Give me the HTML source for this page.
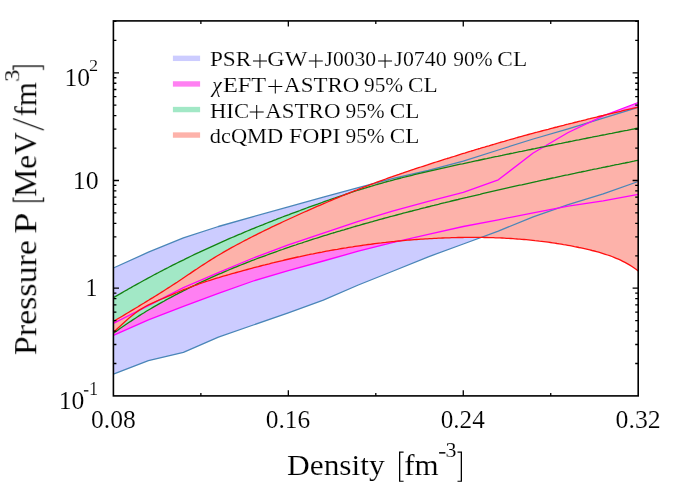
<!DOCTYPE html>
<html><head><meta charset="utf-8"><title>EOS constraints</title>
<style>html,body{margin:0;padding:0;background:#fff;}svg{display:block;}text{font-family:"Liberation Serif",serif;}</style></head>
<body>
<svg width="698" height="484" viewBox="0 0 698 484">
<rect width="698" height="484" fill="#ffffff"/>
<defs><clipPath id="cp"><rect x="113.4" y="20.9" width="524.8000000000001" height="375.0"/></clipPath></defs>
<g clip-path="url(#cp)">
<polygon points="113.4,268.0 148.4,252.2 183.4,237.9 218.4,226.5 253.3,216.6 288.3,206.9 323.3,197.2 358.3,187.6 393.3,178.4 428.3,170.4 463.3,161.1 498.3,150.0 533.2,139.0 568.2,128.9 603.2,118.1 638.2,107.4 638.2,181.5 603.2,193.9 568.2,204.6 533.2,216.8 498.3,231.1 463.3,244.0 428.3,256.8 393.3,271.0 358.3,285.0 323.3,300.2 288.3,312.9 253.3,325.0 218.4,337.1 183.4,352.4 148.4,360.7 113.4,374.2" fill="#ccccff"/>
<polygon points="113.4,323.3 148.4,305.6 183.4,287.7 218.4,272.6 253.3,258.0 288.3,244.9 323.3,233.1 358.3,221.3 393.3,210.8 428.3,201.3 463.3,192.3 498.3,179.8 533.2,153.0 568.2,132.5 603.2,115.9 638.2,102.5 638.2,194.4 603.2,200.8 568.2,206.2 533.2,212.8 498.3,219.8 463.3,226.5 428.3,234.3 393.3,242.3 358.3,251.2 323.3,261.0 288.3,270.7 253.3,281.0 218.4,293.3 183.4,306.4 148.4,319.8 113.4,335.3" fill="#ff80f2"/>
<polygon points="113.4,297.7 115.6,296.4 117.8,295.1 120.0,293.9 122.2,292.6 124.4,291.3 126.6,290.1 128.8,288.8 131.0,287.6 133.2,286.3 135.4,285.1 137.6,283.9 139.7,282.7 141.9,281.5 144.1,280.3 146.3,279.1 148.5,277.9 150.7,276.7 152.9,275.5 155.1,274.3 157.3,273.2 159.5,272.0 161.7,270.9 163.9,269.7 166.1,268.6 168.3,267.5 170.5,266.3 172.7,265.2 174.9,264.1 177.1,263.0 179.3,261.9 181.5,260.8 183.7,259.8 185.9,258.7 188.1,257.6 190.3,256.5 192.4,255.5 194.6,254.4 196.8,253.4 199.0,252.4 201.2,251.3 203.4,250.3 205.6,249.3 207.8,248.3 210.0,247.3 212.2,246.3 214.4,245.3 216.6,244.3 218.8,243.3 221.0,242.3 223.2,241.3 225.4,240.4 227.6,239.4 229.8,238.4 232.0,237.5 234.2,236.6 236.4,235.6 238.6,234.7 240.8,233.8 243.0,232.8 245.1,231.9 247.3,231.0 249.5,230.1 251.7,229.2 253.9,228.3 256.1,227.4 258.3,226.5 260.5,225.6 262.7,224.8 264.9,223.9 267.1,223.0 269.3,222.1 271.5,221.3 273.7,220.4 275.9,219.6 278.1,218.7 280.3,217.9 282.5,217.0 284.7,216.2 286.9,215.4 289.1,214.6 291.3,213.7 293.5,212.9 295.7,212.1 297.8,211.3 300.0,210.5 302.2,209.6 304.4,208.8 306.6,208.0 308.8,207.2 311.0,206.4 313.2,205.6 315.4,204.8 317.6,204.1 319.8,203.3 322.0,202.5 324.2,201.7 326.4,200.9 328.6,200.2 330.8,199.4 333.0,198.6 335.2,197.9 337.4,197.1 339.6,196.3 341.8,195.6 344.0,194.9 346.2,194.1 348.4,193.4 350.5,192.7 352.7,192.0 354.9,191.2 357.1,190.5 359.3,189.8 361.5,189.1 363.7,188.5 365.9,187.8 368.1,187.1 370.3,186.5 372.5,185.8 374.7,185.2 376.9,184.5 379.1,183.9 381.3,183.3 383.5,182.7 385.7,182.0 387.9,181.4 390.1,180.9 392.3,180.3 394.5,179.7 396.7,179.1 398.9,178.5 401.1,178.0 403.2,177.4 405.4,176.9 407.6,176.3 409.8,175.8 412.0,175.3 414.2,174.7 416.4,174.2 418.6,173.7 420.8,173.2 423.0,172.6 425.2,172.1 427.4,171.6 429.6,171.1 431.8,170.6 434.0,170.1 436.2,169.6 438.4,169.1 440.6,168.6 442.8,168.1 445.0,167.6 447.2,167.1 449.4,166.7 451.6,166.2 453.8,165.7 455.9,165.2 458.1,164.7 460.3,164.2 462.5,163.8 464.7,163.3 466.9,162.8 469.1,162.3 471.3,161.9 473.5,161.4 475.7,160.9 477.9,160.5 480.1,160.0 482.3,159.5 484.5,159.0 486.7,158.6 488.9,158.1 491.1,157.7 493.3,157.2 495.5,156.7 497.7,156.3 499.9,155.8 502.1,155.4 504.3,154.9 506.5,154.4 508.6,154.0 510.8,153.5 513.0,153.1 515.2,152.6 517.4,152.2 519.6,151.7 521.8,151.3 524.0,150.8 526.2,150.4 528.4,149.9 530.6,149.5 532.8,149.0 535.0,148.6 537.2,148.1 539.4,147.7 541.6,147.2 543.8,146.8 546.0,146.4 548.2,145.9 550.4,145.5 552.6,145.0 554.8,144.6 557.0,144.1 559.2,143.7 561.3,143.3 563.5,142.8 565.7,142.4 567.9,142.0 570.1,141.5 572.3,141.1 574.5,140.6 576.7,140.2 578.9,139.8 581.1,139.3 583.3,138.9 585.5,138.5 587.7,138.0 589.9,137.6 592.1,137.2 594.3,136.7 596.5,136.3 598.7,135.9 600.9,135.4 603.1,135.0 605.3,134.6 607.5,134.1 609.7,133.7 611.9,133.3 614.0,132.8 616.2,132.4 618.4,132.0 620.6,131.5 622.8,131.1 625.0,130.7 627.2,130.3 629.4,129.8 631.6,129.4 633.8,129.0 636.0,128.5 638.2,128.1 638.2,160.3 636.0,160.7 633.8,161.2 631.6,161.6 629.4,162.1 627.2,162.5 625.0,163.0 622.8,163.4 620.6,163.8 618.4,164.3 616.2,164.7 614.0,165.2 611.9,165.6 609.7,166.1 607.5,166.5 605.3,167.0 603.1,167.4 600.9,167.9 598.7,168.3 596.5,168.8 594.3,169.2 592.1,169.7 589.9,170.1 587.7,170.6 585.5,171.1 583.3,171.5 581.1,172.0 578.9,172.4 576.7,172.9 574.5,173.4 572.3,173.8 570.1,174.3 567.9,174.8 565.7,175.2 563.5,175.7 561.3,176.2 559.2,176.6 557.0,177.1 554.8,177.6 552.6,178.0 550.4,178.5 548.2,179.0 546.0,179.5 543.8,179.9 541.6,180.4 539.4,180.9 537.2,181.4 535.0,181.8 532.8,182.3 530.6,182.8 528.4,183.3 526.2,183.8 524.0,184.3 521.8,184.8 519.6,185.2 517.4,185.7 515.2,186.2 513.0,186.7 510.8,187.2 508.6,187.7 506.5,188.2 504.3,188.7 502.1,189.2 499.9,189.7 497.7,190.2 495.5,190.7 493.3,191.2 491.1,191.7 488.9,192.2 486.7,192.7 484.5,193.2 482.3,193.7 480.1,194.3 477.9,194.8 475.7,195.3 473.5,195.8 471.3,196.3 469.1,196.8 466.9,197.4 464.7,197.9 462.5,198.4 460.3,198.9 458.1,199.5 455.9,200.0 453.8,200.5 451.6,201.0 449.4,201.6 447.2,202.1 445.0,202.7 442.8,203.2 440.6,203.7 438.4,204.3 436.2,204.8 434.0,205.4 431.8,205.9 429.6,206.5 427.4,207.0 425.2,207.6 423.0,208.1 420.8,208.7 418.6,209.3 416.4,209.8 414.2,210.4 412.0,211.0 409.8,211.5 407.6,212.1 405.4,212.7 403.2,213.2 401.1,213.8 398.9,214.4 396.7,215.0 394.5,215.6 392.3,216.2 390.1,216.7 387.9,217.3 385.7,217.9 383.5,218.5 381.3,219.1 379.1,219.7 376.9,220.3 374.7,220.9 372.5,221.6 370.3,222.2 368.1,222.8 365.9,223.4 363.7,224.0 361.5,224.6 359.3,225.3 357.1,225.9 354.9,226.5 352.7,227.2 350.5,227.8 348.4,228.5 346.2,229.1 344.0,229.8 341.8,230.4 339.6,231.1 337.4,231.7 335.2,232.4 333.0,233.0 330.8,233.7 328.6,234.4 326.4,235.1 324.2,235.7 322.0,236.4 319.8,237.1 317.6,237.8 315.4,238.5 313.2,239.2 311.0,239.9 308.8,240.6 306.6,241.3 304.4,242.0 302.2,242.8 300.0,243.5 297.8,244.2 295.7,245.0 293.5,245.7 291.3,246.4 289.1,247.2 286.9,247.9 284.7,248.7 282.5,249.5 280.3,250.2 278.1,251.0 275.9,251.8 273.7,252.6 271.5,253.4 269.3,254.2 267.1,255.0 264.9,255.8 262.7,256.6 260.5,257.4 258.3,258.2 256.1,259.0 253.9,259.9 251.7,260.7 249.5,261.6 247.3,262.4 245.1,263.3 243.0,264.2 240.8,265.0 238.6,265.9 236.4,266.8 234.2,267.7 232.0,268.6 229.8,269.5 227.6,270.5 225.4,271.4 223.2,272.3 221.0,273.3 218.8,274.2 216.6,275.2 214.4,276.2 212.2,277.1 210.0,278.1 207.8,279.1 205.6,280.1 203.4,281.1 201.2,282.2 199.0,283.2 196.8,284.2 194.6,285.3 192.4,286.3 190.3,287.4 188.1,288.5 185.9,289.6 183.7,290.7 181.5,291.8 179.3,292.9 177.1,294.1 174.9,295.2 172.7,296.4 170.5,297.6 168.3,298.7 166.1,299.9 163.9,301.2 161.7,302.4 159.5,303.6 157.3,304.9 155.1,306.1 152.9,307.4 150.7,308.7 148.5,310.0 146.3,311.3 144.1,312.7 141.9,314.0 139.7,315.4 137.6,316.8 135.4,318.2 133.2,319.6 131.0,321.1 128.8,322.5 126.6,324.0 124.4,325.5 122.2,327.0 120.0,328.5 117.8,330.1 115.6,331.7 113.4,333.3" fill="#a2e8c6"/>
<polygon points="113.4,321.4 115.6,320.1 117.8,318.8 120.0,317.5 122.2,316.2 124.4,314.9 126.6,313.5 128.8,312.2 131.0,310.9 133.2,309.6 135.4,308.3 137.6,307.0 139.7,305.6 141.9,304.3 144.1,303.0 146.3,301.6 148.5,300.3 150.7,298.9 152.9,297.6 155.1,296.2 157.3,294.9 159.5,293.5 161.7,292.1 163.9,290.7 166.1,289.3 168.3,287.9 170.5,286.5 172.7,285.0 174.9,283.6 177.1,282.2 179.3,280.7 181.5,279.3 183.7,277.8 185.9,276.3 188.1,274.8 190.3,273.4 192.4,271.9 194.6,270.4 196.8,269.0 199.0,267.5 201.2,266.0 203.4,264.6 205.6,263.2 207.8,261.8 210.0,260.4 212.2,259.0 214.4,257.6 216.6,256.3 218.8,255.0 221.0,253.7 223.2,252.4 225.4,251.1 227.6,249.9 229.8,248.6 232.0,247.4 234.2,246.2 236.4,245.0 238.6,243.9 240.8,242.7 243.0,241.5 245.1,240.4 247.3,239.3 249.5,238.1 251.7,237.0 253.9,235.9 256.1,234.8 258.3,233.7 260.5,232.6 262.7,231.5 264.9,230.4 267.1,229.4 269.3,228.3 271.5,227.2 273.7,226.2 275.9,225.1 278.1,224.1 280.3,223.1 282.5,222.0 284.7,221.0 286.9,220.0 289.1,219.0 291.3,218.0 293.5,217.0 295.7,216.0 297.8,215.0 300.0,214.0 302.2,213.0 304.4,212.0 306.6,211.1 308.8,210.1 311.0,209.1 313.2,208.2 315.4,207.2 317.6,206.2 319.8,205.3 322.0,204.3 324.2,203.4 326.4,202.5 328.6,201.5 330.8,200.6 333.0,199.7 335.2,198.7 337.4,197.8 339.6,196.9 341.8,196.0 344.0,195.1 346.2,194.2 348.4,193.3 350.5,192.4 352.7,191.5 354.9,190.6 357.1,189.8 359.3,188.9 361.5,188.1 363.7,187.2 365.9,186.4 368.1,185.5 370.3,184.7 372.5,183.8 374.7,183.0 376.9,182.2 379.1,181.4 381.3,180.6 383.5,179.8 385.7,179.0 387.9,178.2 390.1,177.4 392.3,176.7 394.5,175.9 396.7,175.1 398.9,174.4 401.1,173.6 403.2,172.9 405.4,172.1 407.6,171.4 409.8,170.6 412.0,169.9 414.2,169.2 416.4,168.4 418.6,167.7 420.8,167.0 423.0,166.3 425.2,165.6 427.4,164.9 429.6,164.1 431.8,163.4 434.0,162.7 436.2,162.0 438.4,161.3 440.6,160.6 442.8,159.9 445.0,159.2 447.2,158.5 449.4,157.9 451.6,157.2 453.8,156.5 455.9,155.8 458.1,155.1 460.3,154.4 462.5,153.7 464.7,153.1 466.9,152.4 469.1,151.7 471.3,151.0 473.5,150.4 475.7,149.7 477.9,149.0 480.1,148.4 482.3,147.7 484.5,147.1 486.7,146.4 488.9,145.8 491.1,145.1 493.3,144.5 495.5,143.8 497.7,143.2 499.9,142.5 502.1,141.9 504.3,141.3 506.5,140.6 508.6,140.0 510.8,139.4 513.0,138.8 515.2,138.2 517.4,137.5 519.6,136.9 521.8,136.3 524.0,135.7 526.2,135.1 528.4,134.5 530.6,133.9 532.8,133.3 535.0,132.7 537.2,132.2 539.4,131.6 541.6,131.0 543.8,130.4 546.0,129.8 548.2,129.3 550.4,128.7 552.6,128.1 554.8,127.5 557.0,127.0 559.2,126.4 561.3,125.8 563.5,125.3 565.7,124.7 567.9,124.2 570.1,123.6 572.3,123.1 574.5,122.5 576.7,122.0 578.9,121.4 581.1,120.9 583.3,120.3 585.5,119.8 587.7,119.2 589.9,118.7 592.1,118.1 594.3,117.6 596.5,117.1 598.7,116.5 600.9,116.0 603.1,115.5 605.3,114.9 607.5,114.4 609.7,113.9 611.9,113.4 614.0,112.8 616.2,112.3 618.4,111.8 620.6,111.3 622.8,110.7 625.0,110.2 627.2,109.7 629.4,109.2 631.6,108.7 633.8,108.1 636.0,107.6 638.2,107.1 638.2,270.9 636.0,269.2 633.8,267.7 631.6,266.2 629.4,264.9 627.2,263.6 625.0,262.4 622.8,261.3 620.6,260.2 618.4,259.2 616.2,258.3 614.0,257.4 611.9,256.5 609.7,255.7 607.5,255.0 605.3,254.3 603.1,253.6 600.9,252.9 598.7,252.2 596.5,251.6 594.3,251.0 592.1,250.5 589.9,249.9 587.7,249.4 585.5,248.9 583.3,248.4 581.1,247.9 578.9,247.5 576.7,247.0 574.5,246.6 572.3,246.1 570.1,245.7 567.9,245.3 565.7,244.9 563.5,244.6 561.3,244.2 559.2,243.8 557.0,243.5 554.8,243.1 552.6,242.8 550.4,242.5 548.2,242.2 546.0,241.9 543.8,241.6 541.6,241.3 539.4,241.1 537.2,240.8 535.0,240.6 532.8,240.3 530.6,240.1 528.4,239.9 526.2,239.7 524.0,239.5 521.8,239.3 519.6,239.1 517.4,239.0 515.2,238.8 513.0,238.6 510.8,238.5 508.6,238.4 506.5,238.3 504.3,238.1 502.1,238.0 499.9,237.9 497.7,237.8 495.5,237.8 493.3,237.7 491.1,237.6 488.9,237.6 486.7,237.5 484.5,237.5 482.3,237.4 480.1,237.4 477.9,237.4 475.7,237.4 473.5,237.4 471.3,237.4 469.1,237.4 466.9,237.4 464.7,237.4 462.5,237.5 460.3,237.5 458.1,237.5 455.9,237.6 453.8,237.7 451.6,237.7 449.4,237.8 447.2,237.9 445.0,237.9 442.8,238.0 440.6,238.1 438.4,238.2 436.2,238.3 434.0,238.4 431.8,238.6 429.6,238.7 427.4,238.8 425.2,238.9 423.0,239.1 420.8,239.2 418.6,239.4 416.4,239.5 414.2,239.7 412.0,239.9 409.8,240.0 407.6,240.2 405.4,240.4 403.2,240.6 401.1,240.8 398.9,241.0 396.7,241.2 394.5,241.5 392.3,241.7 390.1,241.9 387.9,242.1 385.7,242.4 383.5,242.6 381.3,242.9 379.1,243.1 376.9,243.4 374.7,243.7 372.5,244.0 370.3,244.3 368.1,244.5 365.9,244.8 363.7,245.1 361.5,245.5 359.3,245.8 357.1,246.1 354.9,246.4 352.7,246.8 350.5,247.1 348.4,247.4 346.2,247.8 344.0,248.1 341.8,248.5 339.6,248.9 337.4,249.3 335.2,249.6 333.0,250.0 330.8,250.4 328.6,250.8 326.4,251.2 324.2,251.6 322.0,252.1 319.8,252.5 317.6,252.9 315.4,253.3 313.2,253.8 311.0,254.2 308.8,254.7 306.6,255.1 304.4,255.6 302.2,256.1 300.0,256.6 297.8,257.0 295.7,257.5 293.5,258.0 291.3,258.5 289.1,259.0 286.9,259.5 284.7,260.0 282.5,260.6 280.3,261.1 278.1,261.6 275.9,262.1 273.7,262.7 271.5,263.2 269.3,263.8 267.1,264.3 264.9,264.9 262.7,265.4 260.5,266.0 258.3,266.6 256.1,267.1 253.9,267.7 251.7,268.3 249.5,268.9 247.3,269.5 245.1,270.1 243.0,270.7 240.8,271.3 238.6,271.9 236.4,272.5 234.2,273.1 232.0,273.7 229.8,274.3 227.6,275.0 225.4,275.6 223.2,276.2 221.0,276.9 218.8,277.6 216.6,278.2 214.4,278.9 212.2,279.6 210.0,280.3 207.8,281.0 205.6,281.7 203.4,282.5 201.2,283.2 199.0,284.0 196.8,284.8 194.6,285.5 192.4,286.3 190.3,287.2 188.1,288.0 185.9,288.9 183.7,289.7 181.5,290.6 179.3,291.5 177.1,292.5 174.9,293.4 172.7,294.4 170.5,295.3 168.3,296.2 166.1,297.2 163.9,298.1 161.7,299.0 159.5,299.9 157.3,300.8 155.1,301.8 152.9,302.8 150.7,303.8 148.5,304.9 146.3,306.0 144.1,307.3 141.9,308.6 139.7,309.9 137.6,311.4 135.4,313.0 133.2,314.7 131.0,316.4 128.8,318.3 126.6,320.2 124.4,322.2 122.2,324.2 120.0,326.2 117.8,328.2 115.6,330.2 113.4,332.1" fill="#fdb2aa"/>
<polyline points="113.4,268.0 148.4,252.2 183.4,237.9 218.4,226.5 253.3,216.6 288.3,206.9 323.3,197.2 358.3,187.6 393.3,178.4 428.3,170.4 463.3,161.1 498.3,150.0 533.2,139.0 568.2,128.9 603.2,118.1 638.2,107.4" fill="none" stroke="#4a86b8" stroke-width="1.3" stroke-linejoin="round"/>
<polyline points="113.4,374.2 148.4,360.7 183.4,352.4 218.4,337.1 253.3,325.0 288.3,312.9 323.3,300.2 358.3,285.0 393.3,271.0 428.3,256.8 463.3,244.0 498.3,231.1 533.2,216.8 568.2,204.6 603.2,193.9 638.2,181.5" fill="none" stroke="#4a86b8" stroke-width="1.3" stroke-linejoin="round"/>
<polyline points="113.4,323.3 148.4,305.6 183.4,287.7 218.4,272.6 253.3,258.0 288.3,244.9 323.3,233.1 358.3,221.3 393.3,210.8 428.3,201.3 463.3,192.3 498.3,179.8 533.2,153.0 568.2,132.5 603.2,115.9 638.2,102.5" fill="none" stroke="#ff00ff" stroke-width="1.3" stroke-linejoin="round"/>
<polyline points="113.4,335.3 148.4,319.8 183.4,306.4 218.4,293.3 253.3,281.0 288.3,270.7 323.3,261.0 358.3,251.2 393.3,242.3 428.3,234.3 463.3,226.5 498.3,219.8 533.2,212.8 568.2,206.2 603.2,200.8 638.2,194.4" fill="none" stroke="#ff00ff" stroke-width="1.3" stroke-linejoin="round"/>
<polyline points="113.4,297.7 115.6,296.4 117.8,295.1 120.0,293.9 122.2,292.6 124.4,291.3 126.6,290.1 128.8,288.8 131.0,287.6 133.2,286.3 135.4,285.1 137.6,283.9 139.7,282.7 141.9,281.5 144.1,280.3 146.3,279.1 148.5,277.9 150.7,276.7 152.9,275.5 155.1,274.3 157.3,273.2 159.5,272.0 161.7,270.9 163.9,269.7 166.1,268.6 168.3,267.5 170.5,266.3 172.7,265.2 174.9,264.1 177.1,263.0 179.3,261.9 181.5,260.8 183.7,259.8 185.9,258.7 188.1,257.6 190.3,256.5 192.4,255.5 194.6,254.4 196.8,253.4 199.0,252.4 201.2,251.3 203.4,250.3 205.6,249.3 207.8,248.3 210.0,247.3 212.2,246.3 214.4,245.3 216.6,244.3 218.8,243.3 221.0,242.3 223.2,241.3 225.4,240.4 227.6,239.4 229.8,238.4 232.0,237.5 234.2,236.6 236.4,235.6 238.6,234.7 240.8,233.8 243.0,232.8 245.1,231.9 247.3,231.0 249.5,230.1 251.7,229.2 253.9,228.3 256.1,227.4 258.3,226.5 260.5,225.6 262.7,224.8 264.9,223.9 267.1,223.0 269.3,222.1 271.5,221.3 273.7,220.4 275.9,219.6 278.1,218.7 280.3,217.9 282.5,217.0 284.7,216.2 286.9,215.4 289.1,214.6 291.3,213.7 293.5,212.9 295.7,212.1 297.8,211.3 300.0,210.5 302.2,209.6 304.4,208.8 306.6,208.0 308.8,207.2 311.0,206.4 313.2,205.6 315.4,204.8 317.6,204.1 319.8,203.3 322.0,202.5 324.2,201.7 326.4,200.9 328.6,200.2 330.8,199.4 333.0,198.6 335.2,197.9 337.4,197.1 339.6,196.3 341.8,195.6 344.0,194.9 346.2,194.1 348.4,193.4 350.5,192.7 352.7,192.0 354.9,191.2 357.1,190.5 359.3,189.8 361.5,189.1 363.7,188.5 365.9,187.8 368.1,187.1 370.3,186.5 372.5,185.8 374.7,185.2 376.9,184.5 379.1,183.9 381.3,183.3 383.5,182.7 385.7,182.0 387.9,181.4 390.1,180.9 392.3,180.3 394.5,179.7 396.7,179.1 398.9,178.5 401.1,178.0 403.2,177.4 405.4,176.9 407.6,176.3 409.8,175.8 412.0,175.3 414.2,174.7 416.4,174.2 418.6,173.7 420.8,173.2 423.0,172.6 425.2,172.1 427.4,171.6 429.6,171.1 431.8,170.6 434.0,170.1 436.2,169.6 438.4,169.1 440.6,168.6 442.8,168.1 445.0,167.6 447.2,167.1 449.4,166.7 451.6,166.2 453.8,165.7 455.9,165.2 458.1,164.7 460.3,164.2 462.5,163.8 464.7,163.3 466.9,162.8 469.1,162.3 471.3,161.9 473.5,161.4 475.7,160.9 477.9,160.5 480.1,160.0 482.3,159.5 484.5,159.0 486.7,158.6 488.9,158.1 491.1,157.7 493.3,157.2 495.5,156.7 497.7,156.3 499.9,155.8 502.1,155.4 504.3,154.9 506.5,154.4 508.6,154.0 510.8,153.5 513.0,153.1 515.2,152.6 517.4,152.2 519.6,151.7 521.8,151.3 524.0,150.8 526.2,150.4 528.4,149.9 530.6,149.5 532.8,149.0 535.0,148.6 537.2,148.1 539.4,147.7 541.6,147.2 543.8,146.8 546.0,146.4 548.2,145.9 550.4,145.5 552.6,145.0 554.8,144.6 557.0,144.1 559.2,143.7 561.3,143.3 563.5,142.8 565.7,142.4 567.9,142.0 570.1,141.5 572.3,141.1 574.5,140.6 576.7,140.2 578.9,139.8 581.1,139.3 583.3,138.9 585.5,138.5 587.7,138.0 589.9,137.6 592.1,137.2 594.3,136.7 596.5,136.3 598.7,135.9 600.9,135.4 603.1,135.0 605.3,134.6 607.5,134.1 609.7,133.7 611.9,133.3 614.0,132.8 616.2,132.4 618.4,132.0 620.6,131.5 622.8,131.1 625.0,130.7 627.2,130.3 629.4,129.8 631.6,129.4 633.8,129.0 636.0,128.5 638.2,128.1" fill="none" stroke="#128212" stroke-width="1.3" stroke-linejoin="round"/>
<polyline points="113.4,333.3 115.6,331.7 117.8,330.1 120.0,328.5 122.2,327.0 124.4,325.5 126.6,324.0 128.8,322.5 131.0,321.1 133.2,319.6 135.4,318.2 137.6,316.8 139.7,315.4 141.9,314.0 144.1,312.7 146.3,311.3 148.5,310.0 150.7,308.7 152.9,307.4 155.1,306.1 157.3,304.9 159.5,303.6 161.7,302.4 163.9,301.2 166.1,299.9 168.3,298.7 170.5,297.6 172.7,296.4 174.9,295.2 177.1,294.1 179.3,292.9 181.5,291.8 183.7,290.7 185.9,289.6 188.1,288.5 190.3,287.4 192.4,286.3 194.6,285.3 196.8,284.2 199.0,283.2 201.2,282.2 203.4,281.1 205.6,280.1 207.8,279.1 210.0,278.1 212.2,277.1 214.4,276.2 216.6,275.2 218.8,274.2 221.0,273.3 223.2,272.3 225.4,271.4 227.6,270.5 229.8,269.5 232.0,268.6 234.2,267.7 236.4,266.8 238.6,265.9 240.8,265.0 243.0,264.2 245.1,263.3 247.3,262.4 249.5,261.6 251.7,260.7 253.9,259.9 256.1,259.0 258.3,258.2 260.5,257.4 262.7,256.6 264.9,255.8 267.1,255.0 269.3,254.2 271.5,253.4 273.7,252.6 275.9,251.8 278.1,251.0 280.3,250.2 282.5,249.5 284.7,248.7 286.9,247.9 289.1,247.2 291.3,246.4 293.5,245.7 295.7,245.0 297.8,244.2 300.0,243.5 302.2,242.8 304.4,242.0 306.6,241.3 308.8,240.6 311.0,239.9 313.2,239.2 315.4,238.5 317.6,237.8 319.8,237.1 322.0,236.4 324.2,235.7 326.4,235.1 328.6,234.4 330.8,233.7 333.0,233.0 335.2,232.4 337.4,231.7 339.6,231.1 341.8,230.4 344.0,229.8 346.2,229.1 348.4,228.5 350.5,227.8 352.7,227.2 354.9,226.5 357.1,225.9 359.3,225.3 361.5,224.6 363.7,224.0 365.9,223.4 368.1,222.8 370.3,222.2 372.5,221.6 374.7,220.9 376.9,220.3 379.1,219.7 381.3,219.1 383.5,218.5 385.7,217.9 387.9,217.3 390.1,216.7 392.3,216.2 394.5,215.6 396.7,215.0 398.9,214.4 401.1,213.8 403.2,213.2 405.4,212.7 407.6,212.1 409.8,211.5 412.0,211.0 414.2,210.4 416.4,209.8 418.6,209.3 420.8,208.7 423.0,208.1 425.2,207.6 427.4,207.0 429.6,206.5 431.8,205.9 434.0,205.4 436.2,204.8 438.4,204.3 440.6,203.7 442.8,203.2 445.0,202.7 447.2,202.1 449.4,201.6 451.6,201.0 453.8,200.5 455.9,200.0 458.1,199.5 460.3,198.9 462.5,198.4 464.7,197.9 466.9,197.4 469.1,196.8 471.3,196.3 473.5,195.8 475.7,195.3 477.9,194.8 480.1,194.3 482.3,193.7 484.5,193.2 486.7,192.7 488.9,192.2 491.1,191.7 493.3,191.2 495.5,190.7 497.7,190.2 499.9,189.7 502.1,189.2 504.3,188.7 506.5,188.2 508.6,187.7 510.8,187.2 513.0,186.7 515.2,186.2 517.4,185.7 519.6,185.2 521.8,184.8 524.0,184.3 526.2,183.8 528.4,183.3 530.6,182.8 532.8,182.3 535.0,181.8 537.2,181.4 539.4,180.9 541.6,180.4 543.8,179.9 546.0,179.5 548.2,179.0 550.4,178.5 552.6,178.0 554.8,177.6 557.0,177.1 559.2,176.6 561.3,176.2 563.5,175.7 565.7,175.2 567.9,174.8 570.1,174.3 572.3,173.8 574.5,173.4 576.7,172.9 578.9,172.4 581.1,172.0 583.3,171.5 585.5,171.1 587.7,170.6 589.9,170.1 592.1,169.7 594.3,169.2 596.5,168.8 598.7,168.3 600.9,167.9 603.1,167.4 605.3,167.0 607.5,166.5 609.7,166.1 611.9,165.6 614.0,165.2 616.2,164.7 618.4,164.3 620.6,163.8 622.8,163.4 625.0,163.0 627.2,162.5 629.4,162.1 631.6,161.6 633.8,161.2 636.0,160.7 638.2,160.3" fill="none" stroke="#128212" stroke-width="1.3" stroke-linejoin="round"/>
<polyline points="113.4,321.4 115.6,320.1 117.8,318.8 120.0,317.5 122.2,316.2 124.4,314.9 126.6,313.5 128.8,312.2 131.0,310.9 133.2,309.6 135.4,308.3 137.6,307.0 139.7,305.6 141.9,304.3 144.1,303.0 146.3,301.6 148.5,300.3 150.7,298.9 152.9,297.6 155.1,296.2 157.3,294.9 159.5,293.5 161.7,292.1 163.9,290.7 166.1,289.3 168.3,287.9 170.5,286.5 172.7,285.0 174.9,283.6 177.1,282.2 179.3,280.7 181.5,279.3 183.7,277.8 185.9,276.3 188.1,274.8 190.3,273.4 192.4,271.9 194.6,270.4 196.8,269.0 199.0,267.5 201.2,266.0 203.4,264.6 205.6,263.2 207.8,261.8 210.0,260.4 212.2,259.0 214.4,257.6 216.6,256.3 218.8,255.0 221.0,253.7 223.2,252.4 225.4,251.1 227.6,249.9 229.8,248.6 232.0,247.4 234.2,246.2 236.4,245.0 238.6,243.9 240.8,242.7 243.0,241.5 245.1,240.4 247.3,239.3 249.5,238.1 251.7,237.0 253.9,235.9 256.1,234.8 258.3,233.7 260.5,232.6 262.7,231.5 264.9,230.4 267.1,229.4 269.3,228.3 271.5,227.2 273.7,226.2 275.9,225.1 278.1,224.1 280.3,223.1 282.5,222.0 284.7,221.0 286.9,220.0 289.1,219.0 291.3,218.0 293.5,217.0 295.7,216.0 297.8,215.0 300.0,214.0 302.2,213.0 304.4,212.0 306.6,211.1 308.8,210.1 311.0,209.1 313.2,208.2 315.4,207.2 317.6,206.2 319.8,205.3 322.0,204.3 324.2,203.4 326.4,202.5 328.6,201.5 330.8,200.6 333.0,199.7 335.2,198.7 337.4,197.8 339.6,196.9 341.8,196.0 344.0,195.1 346.2,194.2 348.4,193.3 350.5,192.4 352.7,191.5 354.9,190.6 357.1,189.8 359.3,188.9 361.5,188.1 363.7,187.2 365.9,186.4 368.1,185.5 370.3,184.7 372.5,183.8 374.7,183.0 376.9,182.2 379.1,181.4 381.3,180.6 383.5,179.8 385.7,179.0 387.9,178.2 390.1,177.4 392.3,176.7 394.5,175.9 396.7,175.1 398.9,174.4 401.1,173.6 403.2,172.9 405.4,172.1 407.6,171.4 409.8,170.6 412.0,169.9 414.2,169.2 416.4,168.4 418.6,167.7 420.8,167.0 423.0,166.3 425.2,165.6 427.4,164.9 429.6,164.1 431.8,163.4 434.0,162.7 436.2,162.0 438.4,161.3 440.6,160.6 442.8,159.9 445.0,159.2 447.2,158.5 449.4,157.9 451.6,157.2 453.8,156.5 455.9,155.8 458.1,155.1 460.3,154.4 462.5,153.7 464.7,153.1 466.9,152.4 469.1,151.7 471.3,151.0 473.5,150.4 475.7,149.7 477.9,149.0 480.1,148.4 482.3,147.7 484.5,147.1 486.7,146.4 488.9,145.8 491.1,145.1 493.3,144.5 495.5,143.8 497.7,143.2 499.9,142.5 502.1,141.9 504.3,141.3 506.5,140.6 508.6,140.0 510.8,139.4 513.0,138.8 515.2,138.2 517.4,137.5 519.6,136.9 521.8,136.3 524.0,135.7 526.2,135.1 528.4,134.5 530.6,133.9 532.8,133.3 535.0,132.7 537.2,132.2 539.4,131.6 541.6,131.0 543.8,130.4 546.0,129.8 548.2,129.3 550.4,128.7 552.6,128.1 554.8,127.5 557.0,127.0 559.2,126.4 561.3,125.8 563.5,125.3 565.7,124.7 567.9,124.2 570.1,123.6 572.3,123.1 574.5,122.5 576.7,122.0 578.9,121.4 581.1,120.9 583.3,120.3 585.5,119.8 587.7,119.2 589.9,118.7 592.1,118.1 594.3,117.6 596.5,117.1 598.7,116.5 600.9,116.0 603.1,115.5 605.3,114.9 607.5,114.4 609.7,113.9 611.9,113.4 614.0,112.8 616.2,112.3 618.4,111.8 620.6,111.3 622.8,110.7 625.0,110.2 627.2,109.7 629.4,109.2 631.6,108.7 633.8,108.1 636.0,107.6 638.2,107.1" fill="none" stroke="#ff1010" stroke-width="1.3" stroke-linejoin="round"/>
<polyline points="113.4,332.1 115.6,330.2 117.8,328.2 120.0,326.2 122.2,324.2 124.4,322.2 126.6,320.2 128.8,318.3 131.0,316.4 133.2,314.7 135.4,313.0 137.6,311.4 139.7,309.9 141.9,308.6 144.1,307.3 146.3,306.0 148.5,304.9 150.7,303.8 152.9,302.8 155.1,301.8 157.3,300.8 159.5,299.9 161.7,299.0 163.9,298.1 166.1,297.2 168.3,296.2 170.5,295.3 172.7,294.4 174.9,293.4 177.1,292.5 179.3,291.5 181.5,290.6 183.7,289.7 185.9,288.9 188.1,288.0 190.3,287.2 192.4,286.3 194.6,285.5 196.8,284.8 199.0,284.0 201.2,283.2 203.4,282.5 205.6,281.7 207.8,281.0 210.0,280.3 212.2,279.6 214.4,278.9 216.6,278.2 218.8,277.6 221.0,276.9 223.2,276.2 225.4,275.6 227.6,275.0 229.8,274.3 232.0,273.7 234.2,273.1 236.4,272.5 238.6,271.9 240.8,271.3 243.0,270.7 245.1,270.1 247.3,269.5 249.5,268.9 251.7,268.3 253.9,267.7 256.1,267.1 258.3,266.6 260.5,266.0 262.7,265.4 264.9,264.9 267.1,264.3 269.3,263.8 271.5,263.2 273.7,262.7 275.9,262.1 278.1,261.6 280.3,261.1 282.5,260.6 284.7,260.0 286.9,259.5 289.1,259.0 291.3,258.5 293.5,258.0 295.7,257.5 297.8,257.0 300.0,256.6 302.2,256.1 304.4,255.6 306.6,255.1 308.8,254.7 311.0,254.2 313.2,253.8 315.4,253.3 317.6,252.9 319.8,252.5 322.0,252.1 324.2,251.6 326.4,251.2 328.6,250.8 330.8,250.4 333.0,250.0 335.2,249.6 337.4,249.3 339.6,248.9 341.8,248.5 344.0,248.1 346.2,247.8 348.4,247.4 350.5,247.1 352.7,246.8 354.9,246.4 357.1,246.1 359.3,245.8 361.5,245.5 363.7,245.1 365.9,244.8 368.1,244.5 370.3,244.3 372.5,244.0 374.7,243.7 376.9,243.4 379.1,243.1 381.3,242.9 383.5,242.6 385.7,242.4 387.9,242.1 390.1,241.9 392.3,241.7 394.5,241.5 396.7,241.2 398.9,241.0 401.1,240.8 403.2,240.6 405.4,240.4 407.6,240.2 409.8,240.0 412.0,239.9 414.2,239.7 416.4,239.5 418.6,239.4 420.8,239.2 423.0,239.1 425.2,238.9 427.4,238.8 429.6,238.7 431.8,238.6 434.0,238.4 436.2,238.3 438.4,238.2 440.6,238.1 442.8,238.0 445.0,237.9 447.2,237.9 449.4,237.8 451.6,237.7 453.8,237.7 455.9,237.6 458.1,237.5 460.3,237.5 462.5,237.5 464.7,237.4 466.9,237.4 469.1,237.4 471.3,237.4 473.5,237.4 475.7,237.4 477.9,237.4 480.1,237.4 482.3,237.4 484.5,237.5 486.7,237.5 488.9,237.6 491.1,237.6 493.3,237.7 495.5,237.8 497.7,237.8 499.9,237.9 502.1,238.0 504.3,238.1 506.5,238.3 508.6,238.4 510.8,238.5 513.0,238.6 515.2,238.8 517.4,239.0 519.6,239.1 521.8,239.3 524.0,239.5 526.2,239.7 528.4,239.9 530.6,240.1 532.8,240.3 535.0,240.6 537.2,240.8 539.4,241.1 541.6,241.3 543.8,241.6 546.0,241.9 548.2,242.2 550.4,242.5 552.6,242.8 554.8,243.1 557.0,243.5 559.2,243.8 561.3,244.2 563.5,244.6 565.7,244.9 567.9,245.3 570.1,245.7 572.3,246.1 574.5,246.6 576.7,247.0 578.9,247.5 581.1,247.9 583.3,248.4 585.5,248.9 587.7,249.4 589.9,249.9 592.1,250.5 594.3,251.0 596.5,251.6 598.7,252.2 600.9,252.9 603.1,253.6 605.3,254.3 607.5,255.0 609.7,255.7 611.9,256.5 614.0,257.4 616.2,258.3 618.4,259.2 620.6,260.2 622.8,261.3 625.0,262.4 627.2,263.6 629.4,264.9 631.6,266.2 633.8,267.7 636.0,269.2 638.2,270.9" fill="none" stroke="#ff1010" stroke-width="1.3" stroke-linejoin="round"/>
</g>
<g stroke="#000000" stroke-width="1.3" fill="none">
<path d="M113.4 363.48h3.0M638.2 363.48h-3.0"/>
<path d="M113.4 344.51h3.0M638.2 344.51h-3.0"/>
<path d="M113.4 331.06h3.0M638.2 331.06h-3.0"/>
<path d="M113.4 320.62h3.0M638.2 320.62h-3.0"/>
<path d="M113.4 312.09h3.0M638.2 312.09h-3.0"/>
<path d="M113.4 304.88h3.0M638.2 304.88h-3.0"/>
<path d="M113.4 298.64h3.0M638.2 298.64h-3.0"/>
<path d="M113.4 293.13h3.0M638.2 293.13h-3.0"/>
<path d="M113.4 288.20h5.6M638.2 288.20h-5.6"/>
<path d="M113.4 255.78h3.0M638.2 255.78h-3.0"/>
<path d="M113.4 236.81h3.0M638.2 236.81h-3.0"/>
<path d="M113.4 223.36h3.0M638.2 223.36h-3.0"/>
<path d="M113.4 212.92h3.0M638.2 212.92h-3.0"/>
<path d="M113.4 204.39h3.0M638.2 204.39h-3.0"/>
<path d="M113.4 197.18h3.0M638.2 197.18h-3.0"/>
<path d="M113.4 190.94h3.0M638.2 190.94h-3.0"/>
<path d="M113.4 185.43h3.0M638.2 185.43h-3.0"/>
<path d="M113.4 180.50h5.6M638.2 180.50h-5.6"/>
<path d="M113.4 148.08h3.0M638.2 148.08h-3.0"/>
<path d="M113.4 129.11h3.0M638.2 129.11h-3.0"/>
<path d="M113.4 115.66h3.0M638.2 115.66h-3.0"/>
<path d="M113.4 105.22h3.0M638.2 105.22h-3.0"/>
<path d="M113.4 96.69h3.0M638.2 96.69h-3.0"/>
<path d="M113.4 89.48h3.0M638.2 89.48h-3.0"/>
<path d="M113.4 83.24h3.0M638.2 83.24h-3.0"/>
<path d="M113.4 77.73h3.0M638.2 77.73h-3.0"/>
<path d="M113.4 72.80h5.6M638.2 72.80h-5.6"/>
<path d="M113.4 40.38h3.0M638.2 40.38h-3.0"/>
<path d="M113.4 21.41h3.0M638.2 21.41h-3.0"/>
<path d="M200.87 395.9v-3.0M200.87 20.9v3.0"/>
<path d="M288.33 395.9v-5.6M288.33 20.9v5.6"/>
<path d="M375.80 395.9v-3.0M375.80 20.9v3.0"/>
<path d="M463.27 395.9v-5.6M463.27 20.9v5.6"/>
<path d="M550.73 395.9v-3.0M550.73 20.9v3.0"/>
</g>
<rect x="113.4" y="20.9" width="524.8" height="375.0" fill="none" stroke="#000000" stroke-width="1.6"/>
<g font-family="'Liberation Serif', serif" fill="#000000" stroke="none" opacity="0.999">
<text transform="matrix(0.2557 0 0 0.2485 90.98 427.60)" font-size="100" stroke="#fff" stroke-width="0.56" paint-order="fill stroke">0.08</text>
<text transform="matrix(0.2542 0 0 0.2485 265.78 427.60)" font-size="100" stroke="#fff" stroke-width="0.56" paint-order="fill stroke">0.16</text>
<text transform="matrix(0.2519 0 0 0.2485 440.69 427.60)" font-size="100" stroke="#fff" stroke-width="0.56" paint-order="fill stroke">0.24</text>
<text transform="matrix(0.2580 0 0 0.2485 615.57 427.60)" font-size="100" stroke="#fff" stroke-width="0.55" paint-order="fill stroke">0.32</text>
<text transform="matrix(0.2560 0 0 0.2500 64.42 85.50)" font-size="100" stroke="#fff" stroke-width="0.55" paint-order="fill stroke">10</text>
<text transform="matrix(0.1825 0 0 0.1712 88.98 71.10)" font-size="100" stroke="#fff" stroke-width="0.79" paint-order="fill stroke">2</text>
<text transform="matrix(0.2583 0 0 0.2500 72.80 188.70)" font-size="100" stroke="#fff" stroke-width="0.55" paint-order="fill stroke">10</text>
<text transform="matrix(0.2394 0 0 0.2500 85.56 296.20)" font-size="100" stroke="#fff" stroke-width="0.57" paint-order="fill stroke">1</text>
<text transform="matrix(0.2571 0 0 0.2500 58.71 408.90)" font-size="100" stroke="#fff" stroke-width="0.55" paint-order="fill stroke">10</text>
<rect x="83.9" y="390.2" width="4.5" height="1.3"/>
<text transform="matrix(0.1831 0 0 0.1788 88.94 394.80)" font-size="100" stroke="#fff" stroke-width="0.77" paint-order="fill stroke">1</text>
<rect x="172.9" y="55.65" width="27.2" height="5.4" fill="#ccccff"/>
<rect x="172.9" y="81.25" width="27.2" height="5.4" fill="#ff80f2"/>
<rect x="172.9" y="106.85" width="27.2" height="5.4" fill="#a2e8c6"/>
<rect x="172.9" y="132.35" width="27.2" height="5.4" fill="#fdb2aa"/>
<text transform="matrix(0.2327 0 0 0.2137 209.90 66.40)" font-size="100" stroke="#fff" stroke-width="0.63" paint-order="fill stroke">PSR</text>
<path d="M252.95 60.40h14.0v1.0h-14.0zM259.45 53.90h1.0v14.0h-1.0z"/>
<text transform="matrix(0.2395 0 0 0.2137 267.34 66.40)" font-size="100" stroke="#fff" stroke-width="0.62" paint-order="fill stroke">GW</text>
<path d="M308.80 60.40h14.0v1.0h-14.0zM315.30 53.90h1.0v14.0h-1.0z"/>
<text transform="matrix(0.2159 0 0 0.2137 324.57 66.40)" font-size="100" stroke="#fff" stroke-width="0.65" paint-order="fill stroke">J0030</text>
<path d="M378.05 60.40h14.0v1.0h-14.0zM384.55 53.90h1.0v14.0h-1.0z"/>
<text transform="matrix(0.2189 0 0 0.2137 394.36 66.40)" font-size="100" stroke="#fff" stroke-width="0.65" paint-order="fill stroke">J0740</text>
<text transform="matrix(0.2147 0 0 0.2137 453.26 66.40)" font-size="100" stroke="#fff" stroke-width="0.65" paint-order="fill stroke">90%</text>
<text transform="matrix(0.2332 0 0 0.2137 497.37 66.40)" font-size="100" stroke="#fff" stroke-width="0.63" paint-order="fill stroke">CL</text>
<text transform="matrix(0.2148 0 0 0.2174 212.32 92.00)" font-size="100" font-style="italic" stroke="#fff" stroke-width="0.65" paint-order="fill stroke">χ</text>
<text transform="matrix(0.2434 0 0 0.2137 222.97 92.00)" font-size="100" stroke="#fff" stroke-width="0.61" paint-order="fill stroke">EFT</text>
<path d="M268.30 86.00h14.0v1.0h-14.0zM274.80 79.50h1.0v14.0h-1.0z"/>
<text transform="matrix(0.2295 0 0 0.2137 284.07 92.00)" font-size="100" stroke="#fff" stroke-width="0.63" paint-order="fill stroke">ASTRO</text>
<text transform="matrix(0.2136 0 0 0.2137 363.96 92.00)" font-size="100" stroke="#fff" stroke-width="0.66" paint-order="fill stroke">95%</text>
<text transform="matrix(0.2323 0 0 0.2137 408.07 92.00)" font-size="100" stroke="#fff" stroke-width="0.63" paint-order="fill stroke">CL</text>
<text transform="matrix(0.2275 0 0 0.2137 209.92 117.60)" font-size="100" stroke="#fff" stroke-width="0.63" paint-order="fill stroke">HIC</text>
<path d="M249.70 111.60h14.0v1.0h-14.0zM256.20 105.10h1.0v14.0h-1.0z"/>
<text transform="matrix(0.2295 0 0 0.2137 265.27 117.60)" font-size="100" stroke="#fff" stroke-width="0.63" paint-order="fill stroke">ASTRO</text>
<text transform="matrix(0.2141 0 0 0.2137 345.46 117.60)" font-size="100" stroke="#fff" stroke-width="0.65" paint-order="fill stroke">95%</text>
<text transform="matrix(0.2323 0 0 0.2137 389.77 117.60)" font-size="100" stroke="#fff" stroke-width="0.63" paint-order="fill stroke">CL</text>
<text transform="matrix(0.2240 0 0 0.2137 209.82 143.10)" font-size="100" stroke="#fff" stroke-width="0.64" paint-order="fill stroke">dcQMD</text>
<text transform="matrix(0.2375 0 0 0.2137 288.99 143.10)" font-size="100" stroke="#fff" stroke-width="0.62" paint-order="fill stroke">FOPI</text>
<text transform="matrix(0.2141 0 0 0.2137 345.46 143.10)" font-size="100" stroke="#fff" stroke-width="0.65" paint-order="fill stroke">95%</text>
<text transform="matrix(0.2323 0 0 0.2137 389.77 143.10)" font-size="100" stroke="#fff" stroke-width="0.63" paint-order="fill stroke">CL</text>
<text transform="matrix(0.3141 0 0 0.2992 287.06 474.50)" font-size="100" stroke="#fff" stroke-width="0.46" paint-order="fill stroke">Density</text>
<path d="M403.60 451.60H399.00V481.80H403.60v-1.15H400.30V452.75H403.60z"/>
<text transform="matrix(0.3103 0 0 0.2992 404.17 474.50)" font-size="100" stroke="#fff" stroke-width="0.46" paint-order="fill stroke">fm</text>
<rect x="439.1" y="452.1" width="6.3" height="1.5"/>
<text transform="matrix(0.2193 0 0 0.2076 445.61 457.30)" font-size="100" stroke="#fff" stroke-width="0.66" paint-order="fill stroke">3</text>
<path d="M457.50 451.60H462.00V481.80H457.50v-1.15H460.70V452.75H457.50z"/>
<g transform="translate(36.2 354.2) rotate(-90)">
<text transform="matrix(0.3402 0 0 0.3176 -1.02 0.00)" font-size="100" stroke="#fff" stroke-width="0.43" paint-order="fill stroke">Pressure</text>
<text transform="matrix(0.3856 0 0 0.3176 120.24 0.00)" font-size="100" stroke="#fff" stroke-width="0.40" paint-order="fill stroke">P</text>
<path d="M156.70 -23.50H152.40V7.90H156.70v-1.15H153.70V-22.35H156.70z"/>
<text transform="matrix(0.3156 0 0 0.3176 157.25 0.00)" font-size="100" stroke="#fff" stroke-width="0.44" paint-order="fill stroke">MeV</text>
<path d="M224.2 7.6L235.5 -23.1" stroke="#000" stroke-width="1.25" fill="none"/>
<text transform="matrix(0.3093 0 0 0.3176 237.77 0.00)" font-size="100" stroke="#fff" stroke-width="0.45" paint-order="fill stroke">fm</text>
<text transform="matrix(0.2482 0 0 0.2182 272.28 -17.10)" font-size="100" stroke="#fff" stroke-width="0.60" paint-order="fill stroke">3</text>
<path d="M284.20 -23.40H288.70V7.80H284.20v-1.15H287.40V-22.25H284.20z"/>
</g>
</g>
</svg>
</body></html>
